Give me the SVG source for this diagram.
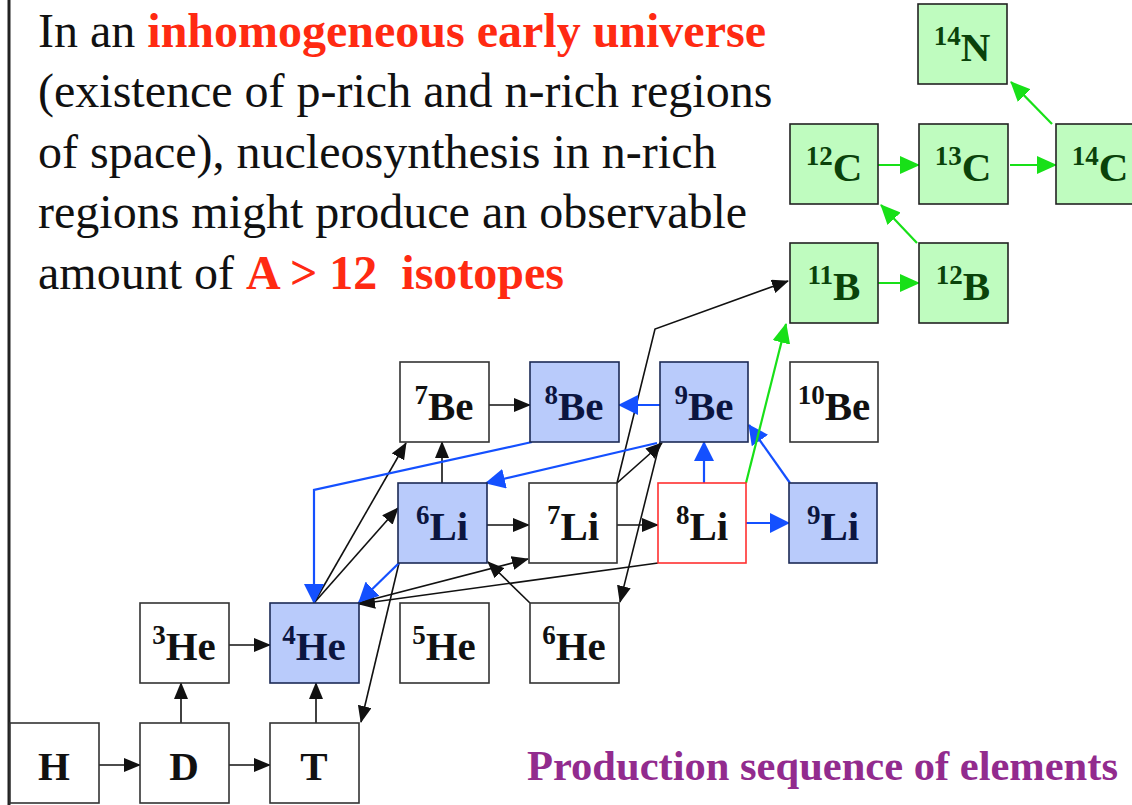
<svg xmlns="http://www.w3.org/2000/svg" width="1132" height="805" viewBox="0 0 1132 805">
<defs>
<style>
.bx{fill:#ffffff;stroke:#333;stroke-width:1.6}
.bl{fill:#b9cbfb;stroke:#1c2a55;stroke-width:1.6}
.gr{fill:#bffcbf;stroke:#222;stroke-width:1.6}
.rd{fill:#ffffff;stroke:#ff3030;stroke-width:1.6}
.lb{font-family:"Liberation Serif","Times New Roman",serif;font-weight:bold;font-size:41px;fill:#111;text-anchor:middle}
.lbb{fill:#0b1540}
.lbg{fill:#0a420a}
.sup{font-size:27px}
.para{font-family:"Liberation Serif","Times New Roman",serif;font-size:48px;fill:#111}
.red{fill:#ff2a12;font-weight:bold}
.k{fill:none;stroke:#111;stroke-width:1.6}
.b{fill:none;stroke:#1450ff;stroke-width:2.2}
.g{fill:none;stroke:#18e018;stroke-width:2.2}
</style>
<marker id="ak" markerUnits="userSpaceOnUse" markerWidth="17" markerHeight="14" refX="16" refY="7" orient="auto"><path d="M0,0 L17,7 L0,14 z" fill="#111"/></marker>
<marker id="abl" markerUnits="userSpaceOnUse" markerWidth="20" markerHeight="20" refX="19" refY="10" orient="auto"><path d="M0,0 L20,10 L0,20 z" fill="#1450ff"/></marker>
<marker id="ag" markerUnits="userSpaceOnUse" markerWidth="20" markerHeight="18" refX="19" refY="9" orient="auto"><path d="M0,0 L20,9 L0,18 z" fill="#18e018"/></marker>
</defs>
<rect width="1132" height="805" fill="#ffffff"/>
<line x1="9" y1="0" x2="9" y2="805" stroke="#222" stroke-width="3"/>

<g id="paragraph">
<text class="para" x="38" y="47">In an <tspan class="red">inhomogeneous early universe</tspan></text>
<text class="para" x="38" y="107">(existence of p-rich and n-rich regions</text>
<text class="para" x="38" y="168">of space), nucleosynthesis in n-rich</text>
<text class="para" x="38" y="228">regions might produce an observable</text>
<text class="para" x="38" y="289" xml:space="preserve">amount of <tspan class="red">A &gt; 12  isotopes</tspan></text>
</g>

<g id="connectors">
<path class="k" d="M97,765 L140,765" marker-end="url(#ak)"/>
<path class="k" d="M229,765 L270,765" marker-end="url(#ak)"/>
<path class="k" d="M181,723 L181,683" marker-end="url(#ak)"/>
<path class="k" d="M316,723 L316,683" marker-end="url(#ak)"/>
<path class="k" d="M226,645 L270,645" marker-end="url(#ak)"/>
<path class="k" d="M487,525 L529,525" marker-end="url(#ak)"/>
<path class="k" d="M615,525 L658,525" marker-end="url(#ak)"/>
<path class="k" d="M486,405 L530,405" marker-end="url(#ak)"/>
<path class="k" d="M442,483 L442,442" marker-end="url(#ak)"/>
<path class="k" d="M314,603 L406,443" marker-end="url(#ak)"/>
<path class="k" d="M314,603 L398,508" marker-end="url(#ak)"/>
<path class="k" d="M358,603 L528,559" marker-end="url(#ak)"/>
<path class="k" d="M658,563 L359,604" marker-end="url(#ak)"/>
<path class="k" d="M530,603 L488,562" marker-end="url(#ak)"/>
<path class="k" d="M399,563 L361,722" marker-end="url(#ak)"/>
<path class="k" d="M617,483 L662,443" marker-end="url(#ak)"/>
<path class="k" d="M617,483 L655,329 L788,281" marker-end="url(#ak)"/>
<path class="k" d="M660,442 L620,602" marker-end="url(#ak)"/>

<path class="b" d="M660,405 L619,405" marker-end="url(#abl)"/>
<path class="b" d="M704,483 L704,442" marker-end="url(#abl)"/>
<path class="b" d="M746,523 L789,523" marker-end="url(#abl)"/>
<path class="b" d="M790,483 L749,425" marker-end="url(#abl)"/>
<path class="b" d="M657,443 L486,483" marker-end="url(#abl)"/>
<path class="b" d="M532,442 L314,490 L314,603" marker-end="url(#abl)"/>
<path class="b" d="M399,563 L359,602" marker-end="url(#abl)"/>

<path class="g" d="M878,283 L919,283" marker-end="url(#ag)"/>
<path class="g" d="M878,165 L919,165" marker-end="url(#ag)"/>
<path class="g" d="M1010,165 L1056,165" marker-end="url(#ag)"/>
<path class="g" d="M917,243 L881,205" marker-end="url(#ag)"/>
<path class="g" d="M1052,124 L1011,82" marker-end="url(#ag)"/>
<path class="g" d="M746,483 L786,324" marker-end="url(#ag)"/>
</g>

<g id="n-H"><rect class="bx" x="10" y="723" width="89" height="80"/><text class="lb" x="54" y="780">H</text></g>
<g id="n-D"><rect class="bx" x="140" y="723" width="89" height="80"/><text class="lb" x="184" y="780">D</text></g>
<g id="n-T"><rect class="bx" x="270" y="723" width="89" height="80"/><text class="lb" x="314" y="780">T</text></g>
<g id="n-He3"><rect class="bx" x="140" y="603" width="89" height="80"/><text class="lb" x="184" y="660"><tspan class="sup" dy="-16">3</tspan><tspan dy="16">He</tspan></text></g>
<g id="n-He4"><rect class="bl" x="270" y="603" width="89" height="80"/><text class="lb lbb" x="314" y="660"><tspan class="sup" dy="-16">4</tspan><tspan dy="16">He</tspan></text></g>
<g id="n-He5"><rect class="bx" x="400" y="603" width="89" height="80"/><text class="lb" x="444" y="660"><tspan class="sup" dy="-16">5</tspan><tspan dy="16">He</tspan></text></g>
<g id="n-He6"><rect class="bx" x="530" y="603" width="89" height="80"/><text class="lb" x="574" y="660"><tspan class="sup" dy="-16">6</tspan><tspan dy="16">He</tspan></text></g>
<g id="n-Li6"><rect class="bl" x="398" y="483" width="89" height="80"/><text class="lb lbb" x="442" y="540"><tspan class="sup" dy="-16">6</tspan><tspan dy="16">Li</tspan></text></g>
<g id="n-Li7"><rect class="bx" x="529" y="483" width="88" height="80"/><text class="lb" x="573" y="540"><tspan class="sup" dy="-16">7</tspan><tspan dy="16">Li</tspan></text></g>
<g id="n-Li8"><rect class="rd" x="658" y="483" width="88" height="80"/><text class="lb" x="702" y="540"><tspan class="sup" dy="-16">8</tspan><tspan dy="16">Li</tspan></text></g>
<g id="n-Li9"><rect class="bl" x="789" y="483" width="88" height="80"/><text class="lb lbb" x="833" y="540"><tspan class="sup" dy="-16">9</tspan><tspan dy="16">Li</tspan></text></g>
<g id="n-Be7"><rect class="bx" x="400" y="362" width="89" height="80"/><text class="lb" x="444" y="420"><tspan class="sup" dy="-16">7</tspan><tspan dy="16">Be</tspan></text></g>
<g id="n-Be8"><rect class="bl" x="530" y="362" width="89" height="80"/><text class="lb lbb" x="574" y="420"><tspan class="sup" dy="-16">8</tspan><tspan dy="16">Be</tspan></text></g>
<g id="n-Be9"><rect class="bl" x="660" y="362" width="88" height="80"/><text class="lb lbb" x="704" y="420"><tspan class="sup" dy="-16">9</tspan><tspan dy="16">Be</tspan></text></g>
<g id="n-Be10"><rect class="bx" x="790" y="362" width="88" height="80"/><text class="lb" x="834" y="420"><tspan class="sup" dy="-16">10</tspan><tspan dy="16">Be</tspan></text></g>
<g id="n-B11"><rect class="gr" x="790" y="243" width="88" height="80"/><text class="lb lbg" x="834" y="300"><tspan class="sup" dy="-16">11</tspan><tspan dy="16">B</tspan></text></g>
<g id="n-B12"><rect class="gr" x="919" y="243" width="89" height="80"/><text class="lb lbg" x="963" y="300"><tspan class="sup" dy="-16">12</tspan><tspan dy="16">B</tspan></text></g>
<g id="n-C12"><rect class="gr" x="790" y="124" width="88" height="80"/><text class="lb lbg" x="834" y="181"><tspan class="sup" dy="-16">12</tspan><tspan dy="16">C</tspan></text></g>
<g id="n-C13"><rect class="gr" x="919" y="124" width="89" height="80"/><text class="lb lbg" x="963" y="181"><tspan class="sup" dy="-16">13</tspan><tspan dy="16">C</tspan></text></g>
<g id="n-C14"><rect class="gr" x="1056" y="124" width="89" height="80"/><text class="lb lbg" x="1100" y="181"><tspan class="sup" dy="-16">14</tspan><tspan dy="16">C</tspan></text></g>
<g id="n-N14"><rect class="gr" x="918" y="4" width="89" height="80"/><text class="lb lbg" x="962" y="61"><tspan class="sup" dy="-16">14</tspan><tspan dy="16">N</tspan></text></g>

<text id="caption" x="527" y="780" font-family="Liberation Serif,Times New Roman,serif" font-weight="bold" font-size="43" fill="#922b8e" textLength="591" lengthAdjust="spacingAndGlyphs">Production sequence of elements</text>
</svg>
